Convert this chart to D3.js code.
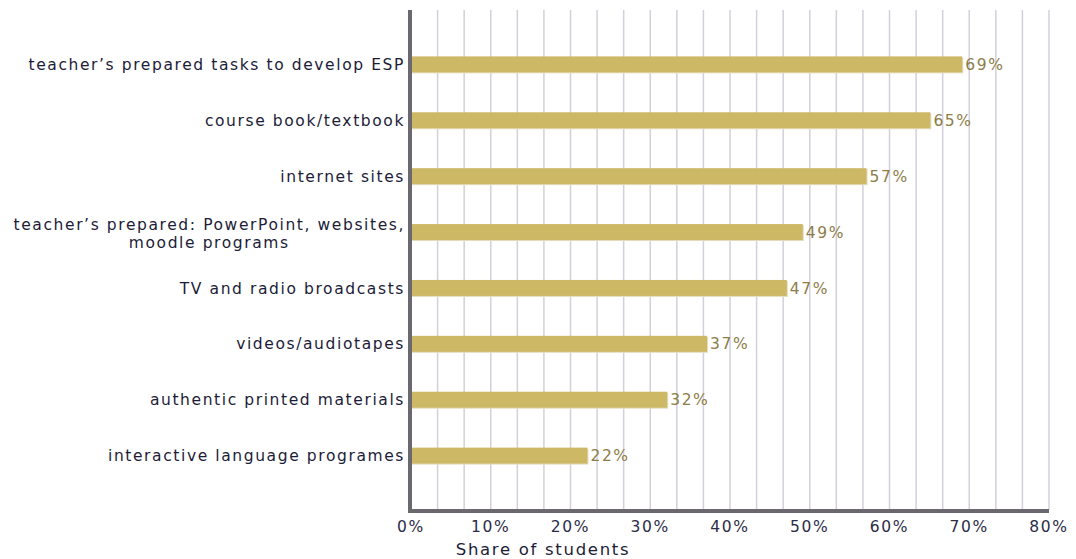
<!DOCTYPE html>
<html><head><meta charset="utf-8">
<script src="https://cdn.jsdelivr.net/npm/d3@7"></script>
<style>body{margin:0;background:#fff}svg{display:block}text{font-family:"DejaVu Sans",Verdana,sans-serif}</style>
</head><body><div id="chart"></div>
<script>
const categories = [
  "teacher’s prepared tasks to develop ESP",
  "course book/textbook",
  "internet sites",
  "teacher’s prepared: PowerPoint, websites,|moodle programs",
  "TV and radio broadcasts",
  "videos/audiotapes",
  "authentic printed materials",
  "interactive language programes"
];
const values = [69, 65, 57, 49, 47, 37, 32, 22];
const tickValues = [0, 10, 20, 30, 40, 50, 60, 70, 80];
const axisTitle = "Share of students";

const W = 1076, H = 559;
const m = {left: 411, right: 27, top: 10, bottom: 49};
const FS = 15.5, LS = 1.6;
const svg = d3.select("#chart").append("svg").attr("width", W).attr("height", H);

const x = d3.scaleLinear().domain([0, 80]).range([m.left, W - m.right]);
const y = d3.scaleBand().domain(categories).range([m.top, H - m.bottom])
  .paddingInner(0.714).paddingOuter(0.83);

const grid = d3.range(1, 25).map(i => i * 80 / 24);
svg.append("g").selectAll("line").data(grid).join("line")
  .attr("x1", d => x(d)).attr("x2", d => x(d))
  .attr("y1", m.top).attr("y2", H - m.bottom)
  .attr("stroke", "#d3cfdb").attr("stroke-width", 1.5);

const bars = svg.append("g");
bars.selectAll("rect.sh").data(values).join("rect").attr("class", "sh")
  .attr("x", x(0)).attr("y", (d, i) => y(categories[i]) + 1)
  .attr("width", d => x(d) - x(0) + 2).attr("height", y.bandwidth())
  .attr("fill", "#e4ddc0");
bars.selectAll("rect.b").data(values).join("rect").attr("class", "b")
  .attr("x", x(0)).attr("y", (d, i) => y(categories[i]))
  .attr("width", d => x(d) - x(0) + 1).attr("height", y.bandwidth())
  .attr("fill", "#cdb866");

svg.append("g").selectAll("text").data(values).join("text")
  .attr("x", d => x(d) + 4).attr("y", (d, i) => y(categories[i]) + y.bandwidth() / 2)
  .attr("dy", "0.36em").attr("font-size", FS).attr("letter-spacing", LS).attr("fill", "#8c7d48")
  .text(d => d + "%");

svg.append("line").attr("x1", m.left - 1).attr("x2", m.left - 1)
  .attr("y1", m.top).attr("y2", H - m.bottom + 2)
  .attr("stroke", "#6b686f").attr("stroke-width", 4);
svg.append("line").attr("x1", m.left - 3).attr("x2", x(80))
  .attr("y1", H - m.bottom + 1).attr("y2", H - m.bottom + 1)
  .attr("stroke", "#6b686f").attr("stroke-width", 4);

const cl = svg.append("g");
categories.forEach(c => {
  const parts = c.split("|");
  const cy = y(c) + y.bandwidth() / 2;
  const t = cl.append("text").attr("font-size", FS).attr("letter-spacing", LS).attr("fill", "#1c1c38");
  if (parts.length === 1) {
    t.attr("x", m.left - 6).attr("y", cy).attr("dy", "0.36em").attr("text-anchor", "end").text(c);
  } else {
    t.attr("x", m.left - 6).attr("y", cy - 8).attr("dy", "0.36em").attr("text-anchor", "end").text(parts[0]);
    const w = t.node().getComputedTextLength();
    cl.append("text").attr("font-size", FS).attr("letter-spacing", LS).attr("fill", "#1c1c38")
      .attr("x", m.left - 6 - w / 2).attr("y", cy + 10).attr("dy", "0.36em")
      .attr("text-anchor", "middle").text(parts[1]);
  }
});

svg.append("g").selectAll("text").data(tickValues).join("text")
  .attr("x", d => x(d)).attr("y", 532).attr("text-anchor", "middle")
  .attr("font-size", FS).attr("letter-spacing", LS).attr("fill", "#2c2c48").text(d => d + "%");

svg.append("text").attr("x", 543).attr("y", 555).attr("text-anchor", "middle")
  .attr("font-size", 16.5).attr("letter-spacing", 1.7).attr("fill", "#1c1c38").text(axisTitle);
</script></body></html>
